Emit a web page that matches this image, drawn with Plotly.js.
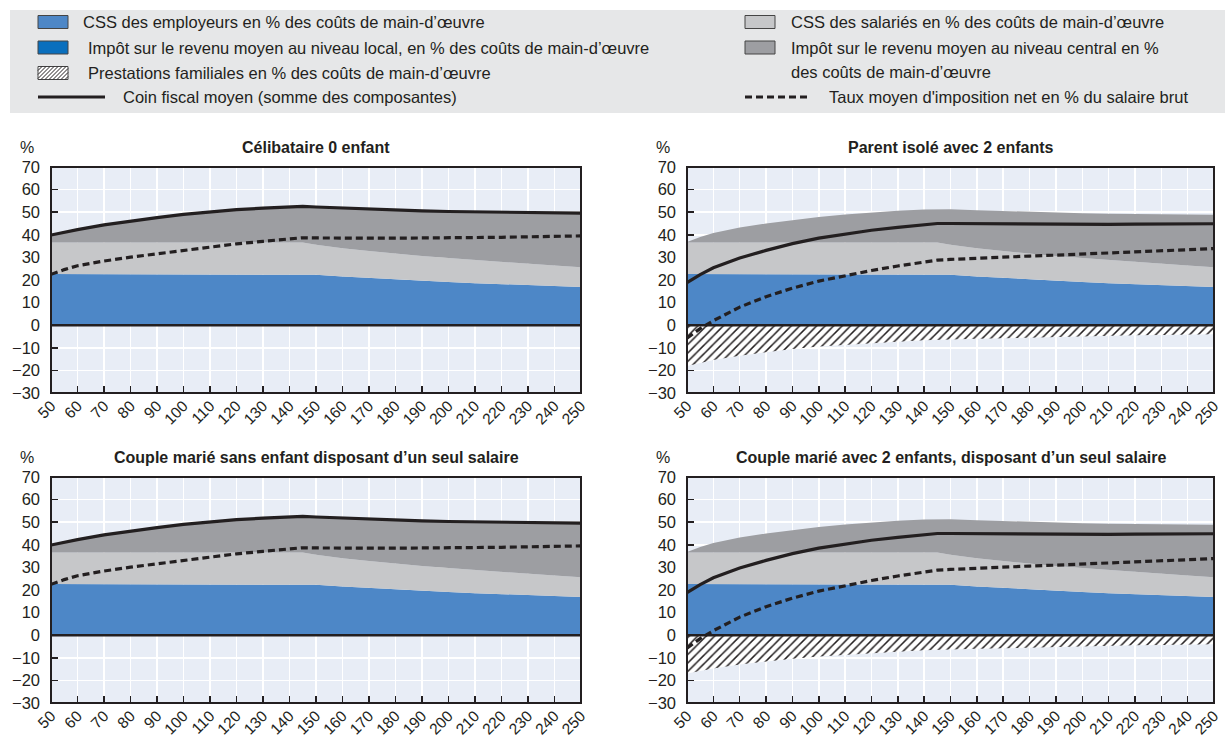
<!DOCTYPE html>
<html><head><meta charset="utf-8">
<script src="https://cdn.plot.ly/plotly-3.0.1.min.js"></script>
<style>html,body{margin:0;padding:0;background:#fff}</style>
</head><body><div id="chart" style="width:1225px;height:743px"></div>
<script>
// ---- Data ----
const wageLevels = [50,55,60,70,80,90,100,110,120,130,140,145,150,160,170,180,190,200,210,220,230,240,250];
const xTickLabels = [50,60,70,80,90,100,110,120,130,140,150,160,170,180,190,200,210,220,230,240,250];
const panelTitles = [
  "Célibataire 0 enfant",
  "Parent isolé avec 2 enfants",
  "Couple marié sans enfant disposant d’un seul salaire",
  "Couple marié avec 2 enfants, disposant d’un seul salaire"
];
// components common to all household types
const employerSSC = [22.6,22.6,22.6,22.6,22.6,22.6,22.6,22.6,22.6,22.6,22.6,22.6,22.3,21.6,20.9,20.3,19.7,19.1,18.6,18.1,17.7,17.3,16.9];
const employeeSSC = [14.0,14.0,14.0,14.0,14.0,14.0,14.0,14.0,14.0,14.0,14.0,14.0,13.3,12.4,11.9,11.3,10.9,10.6,10.2,9.9,9.5,9.1,8.7];
// Single, no child
const singleCentralTax = [3.3,4.6,5.7,7.8,9.5,11.0,12.4,13.6,14.5,15.2,15.8,16.0,16.7,17.8,18.5,19.4,20.0,20.6,21.3,22.0,22.7,23.4,24.0];
const singleBenefits   = [0,0,0,0,0,0,0,0,0,0,0,0,0,0,0,0,0,0,0,0,0,0,0];
const singleWedge      = [39.9,41.2,42.3,44.4,46.1,47.6,49.0,50.2,51.1,51.8,52.4,52.6,52.3,51.8,51.3,51.0,50.6,50.3,50.1,50.0,49.9,49.8,49.6];
const singleNetRate    = [22.5,24.6,26.3,28.4,30.1,31.6,33.1,34.6,36.0,37.1,38.3,38.7,38.6,38.5,38.5,38.5,38.6,38.6,38.7,38.9,39.1,39.3,39.5];
// Single parent, 2 children
const parentCentralTax = [0.2,2.4,4.2,6.6,8.4,10.0,11.3,12.4,13.3,14.0,14.6,14.8,15.7,16.9,17.7,18.5,19.2,19.8,20.5,21.2,21.9,22.6,23.3];
const parentBenefits   = [-18.0,-16.6,-15.4,-13.5,-11.9,-10.5,-9.4,-8.6,-7.9,-7.3,-6.7,-6.4,-6.3,-6.0,-5.7,-5.4,-5.1,-4.9,-4.7,-4.5,-4.3,-4.2,-4.0];
const parentWedge      = [18.8,22.4,25.4,29.7,33.1,36.1,38.5,40.4,42.0,43.3,44.5,45.0,45.0,44.9,44.8,44.7,44.7,44.6,44.6,44.7,44.8,44.8,44.9];
const parentNetRate    = [-5.7,-1.5,2.0,8.0,12.6,16.4,19.5,22.0,24.2,26.2,28.1,28.8,29.1,29.7,30.2,30.6,31.0,31.5,32.0,32.5,33.0,33.4,33.9];
// Married couple, one earner, no child
const coupleCentralTax = [3.3,4.6,5.7,7.8,9.5,11.0,12.4,13.6,14.5,15.2,15.8,16.0,16.7,17.8,18.5,19.4,20.0,20.6,21.3,22.0,22.7,23.4,24.0];
const coupleBenefits   = [0,0,0,0,0,0,0,0,0,0,0,0,0,0,0,0,0,0,0,0,0,0,0];
const coupleWedge      = [39.9,41.2,42.3,44.4,46.1,47.6,49.0,50.2,51.1,51.8,52.4,52.6,52.3,51.8,51.3,51.0,50.6,50.3,50.1,50.0,49.9,49.8,49.6];
const coupleNetRate    = [22.5,24.6,26.3,28.4,30.1,31.6,33.1,34.6,36.0,37.1,38.3,38.7,38.6,38.5,38.5,38.5,38.6,38.6,38.7,38.9,39.1,39.3,39.5];
// Married couple, one earner, 2 children
const familyCentralTax = [0.2,2.4,4.2,6.6,8.4,10.0,11.3,12.4,13.3,14.0,14.6,14.8,15.7,16.9,17.7,18.5,19.2,19.8,20.5,21.2,21.9,22.6,23.3];
const familyBenefits   = [-17.0,-15.8,-14.7,-13.0,-11.6,-10.4,-9.4,-8.6,-7.9,-7.3,-6.7,-6.4,-6.3,-6.0,-5.7,-5.4,-5.1,-4.9,-4.7,-4.5,-4.3,-4.2,-4.0];
const familyWedge      = [18.8,22.4,25.4,29.7,33.1,36.1,38.5,40.4,42.0,43.3,44.5,45.0,45.0,44.9,44.8,44.7,44.7,44.6,44.6,44.7,44.8,44.8,44.9];
const familyNetRate    = [-5.7,-1.5,2.0,8.0,12.6,16.4,19.5,22.0,24.2,26.2,28.1,28.8,29.1,29.7,30.2,30.6,31.0,31.5,32.0,32.5,33.0,33.4,33.9];

const legendLabels = {
  employer: "CSS des employeurs en % des coûts de main-d’œuvre",
  local: "Impôt sur le revenu moyen au niveau local, en % des coûts de main-d’œuvre",
  benefits: "Prestations familiales en % des coûts de main-d’œuvre",
  wedge: "Coin fiscal moyen (somme des composantes)",
  employee: "CSS des salariés en % des coûts de main-d’œuvre",
  central1: "Impôt sur le revenu moyen au niveau central en %",
  central2: "des coûts de main-d’œuvre",
  net: "Taux moyen d'imposition net en % du salaire brut"
};

// ---- Styles ----
const FONT = '"Liberation Sans", Arial, sans-serif';
const INK = '#231f20';
const C_EMPLOYER = '#4d87c7';
const C_LOCAL = '#0a6fbd';
const C_EMPLOYEE = '#c6c7c9';
const C_CENTRAL = '#9d9ea2';
const W = 1225, H = 743;
const px = v => v / W;
const py = v => 1 - v / H;

const panels = [
  {central: singleCentralTax, benefits: singleBenefits, wedge: singleWedge, net: singleNetRate, xd:[51,581], yd:[167,393]},
  {central: parentCentralTax, benefits: parentBenefits, wedge: parentWedge, net: parentNetRate, xd:[687,1214], yd:[167,393]},
  {central: coupleCentralTax, benefits: coupleBenefits, wedge: coupleWedge, net: coupleNetRate, xd:[51,581], yd:[477,703]},
  {central: familyCentralTax, benefits: familyBenefits, wedge: familyWedge, net: familyNetRate, xd:[687,1214], yd:[477,703]}
];

const traces = [];
const layout = {
  width: W, height: H,
  margin: {l:0, r:0, t:0, b:0},
  paper_bgcolor: '#ffffff',
  plot_bgcolor: '#e8edf6',
  showlegend: false,
  font: {family: FONT, color: INK},
  shapes: [], annotations: []
};

panels.forEach((p, i) => {
  const n = i === 0 ? '' : String(i + 1);
  const xa = 'x' + n, ya = 'y' + n;
  const sg = 'pos' + i;
  traces.push({x: wageLevels, y: employerSSC, xaxis: xa, yaxis: ya, type: 'scatter', mode: 'lines',
    stackgroup: sg, line: {width: 0}, fillcolor: C_EMPLOYER, hoverinfo: 'skip'});
  traces.push({x: wageLevels, y: employeeSSC, xaxis: xa, yaxis: ya, type: 'scatter', mode: 'lines',
    stackgroup: sg, line: {width: 0}, fillcolor: C_EMPLOYEE, hoverinfo: 'skip'});
  traces.push({x: wageLevels, y: p.central, xaxis: xa, yaxis: ya, type: 'scatter', mode: 'lines',
    stackgroup: sg, line: {width: 0}, fillcolor: C_CENTRAL, hoverinfo: 'skip'});
  traces.push({x: wageLevels, y: p.benefits, xaxis: xa, yaxis: ya, type: 'scatter', mode: 'lines',
    fill: 'tozeroy', line: {width: 0}, fillcolor: 'rgba(0,0,0,0)',
    fillpattern: {shape: '/', fgcolor: INK, bgcolor: '#ffffff', size: 6, solidity: 0.25}, hoverinfo: 'skip'});
  traces.push({x: wageLevels, y: p.wedge, xaxis: xa, yaxis: ya, type: 'scatter', mode: 'lines',
    line: {color: INK, width: 3.2}, hoverinfo: 'skip'});
  traces.push({x: wageLevels, y: p.net, xaxis: xa, yaxis: ya, type: 'scatter', mode: 'lines',
    line: {color: INK, width: 3.2, dash: '7px,4px'}, hoverinfo: 'skip'});

  layout['xaxis' + n] = {
    domain: [px(p.xd[0]), px(p.xd[1])], anchor: ya, range: [50, 250],
    tickmode: 'array', tickvals: xTickLabels, ticktext: xTickLabels.map(String),
    tickangle: -45, ticks: 'inside', ticklen: 7, tickwidth: 1.5, tickcolor: INK,
    showgrid: true, gridcolor: '#ffffff', gridwidth: 1.5, zeroline: false, showline: false,
    layer: 'below traces', tickfont: {family: FONT, size: 15.5, color: INK}, automargin: false, fixedrange: true
  };
  layout['yaxis' + n] = {
    domain: [py(p.yd[1]), py(p.yd[0])], anchor: xa, range: [-30, 70], dtick: 10,
    ticks: 'inside', ticklen: 7, tickwidth: 1.5, tickcolor: INK, ticklabelstandoff: 10,
    showgrid: true, gridcolor: '#ffffff', gridwidth: 1.5, zeroline: false, showline: false,
    layer: 'below traces', tickfont: {family: FONT, size: 16.5, color: INK}, automargin: false, fixedrange: true
  };
  layout.shapes.push({type: 'line', xref: xa + ' domain', yref: ya, x0: 0, x1: 1, y0: 0, y1: 0,
    line: {color: INK, width: 2.5}, layer: 'above'});
  layout.shapes.push({type: 'rect', xref: xa + ' domain', yref: ya + ' domain', x0: 0, x1: 1, y0: 0, y1: 1,
    line: {color: INK, width: 2}, layer: 'above'});
  layout.annotations.push({text: '<b>' + panelTitles[i] + '</b>', xref: 'paper', yref: 'paper',
    x: px((p.xd[0] + p.xd[1]) / 2), y: py(p.yd[0] - 20), xanchor: 'center', yanchor: 'middle',
    showarrow: false, font: {family: FONT, size: 16, color: INK}});
  layout.annotations.push({text: '%', xref: 'paper', yref: 'paper',
    x: px(p.xd[0] - 24), y: py(p.yd[0] - 20), xanchor: 'center', yanchor: 'middle',
    showarrow: false, font: {family: FONT, size: 16, color: INK}});
});

// ---- Legend (drawn with shapes + text annotations) ----
layout.shapes.push({type: 'rect', xref: 'paper', yref: 'paper', x0: px(10), x1: px(1225), y0: py(113), y1: py(10),
  fillcolor: '#e6e7e8', line: {width: 0}, layer: 'below'});
function swatch(x0, yc, color) {
  layout.shapes.push({type: 'rect', xref: 'paper', yref: 'paper', x0: px(x0), x1: px(x0 + 30),
    y0: py(yc + 6.5), y1: py(yc - 6.5), fillcolor: color, line: {color: '#444444', width: 1}});
}
function label(x, yc, text) {
  layout.annotations.push({text: text, xref: 'paper', yref: 'paper', x: px(x), y: py(yc),
    xanchor: 'left', yanchor: 'middle', showarrow: false, font: {family: FONT, size: 16.5, color: INK}});
}
swatch(38, 22, C_EMPLOYER); label(81, 22, legendLabels.employer);
swatch(38, 47.5, C_LOCAL); label(86, 47.5, legendLabels.local);
swatch(38, 73, '#ffffff'); label(86, 73, legendLabels.benefits);
// hatch inside legend swatch
(function(){
  const x0 = 38, x1 = 68, yt = 66.5, yb = 79.5, h = yb - yt;
  let d = '';
  for (let s = -h; s < (x1 - x0); s += 4) {
    let ax = x0 + s, ay = yb, bx = x0 + s + h, by = yt;
    if (ax < x0) { ay = yb - (x0 - ax); ax = x0; }
    if (bx > x1) { by = yt + (bx - x1); bx = x1; }
    d += 'M' + px(ax) + ',' + py(ay) + 'L' + px(bx) + ',' + py(by);
  }
  layout.shapes.push({type: 'path', xref: 'paper', yref: 'paper', path: d, line: {color: INK, width: 1}});
})();
layout.shapes.push({type: 'line', xref: 'paper', yref: 'paper', x0: px(38), x1: px(105), y0: py(97), y1: py(97),
  line: {color: INK, width: 3}});
label(121, 97, legendLabels.wedge);
swatch(745, 22, C_EMPLOYEE); label(789, 22, legendLabels.employee);
swatch(745, 47.5, C_CENTRAL); label(789, 47.5, legendLabels.central1);
label(789, 72, legendLabels.central2);
layout.shapes.push({type: 'line', xref: 'paper', yref: 'paper', x0: px(745), x1: px(808), y0: py(97), y1: py(97),
  line: {color: INK, width: 3, dash: '7px,4px'}});
label(827, 97, legendLabels.net);

Plotly.newPlot('chart', traces, layout, {displayModeBar: false, staticPlot: true});
</script>
</body></html>
